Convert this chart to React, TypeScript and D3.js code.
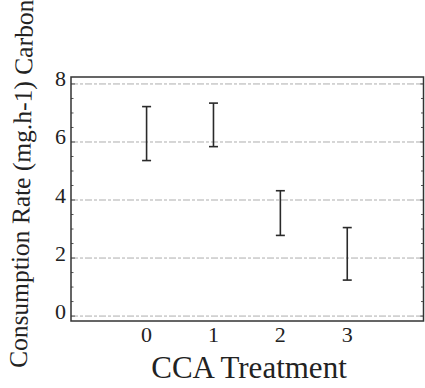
import React from "react";
import * as d3 from "d3";

// CCA treatment levels and the low / high ends of each error bar (mg.h-1 carbon)
const treatments = [0, 1, 2, 3];
const lowValues = [5.36, 5.84, 2.78, 1.24];
const highValues = [7.22, 7.34, 4.32, 3.05];
const yTickValues = [0, 2, 4, 6, 8];
const xTickValues = [0, 1, 2, 3];

const W = 425;
const H = 388;
const frame = { left: 71, right: 423.5, top: 77, bottom: 321 };

export default function App() {
  const x = d3.scaleLinear().domain([-1.13, 4.14]).range([frame.left, frame.right]);
  const y = d3.scaleLinear().domain([-0.17, 8.24]).range([frame.bottom, frame.top]);

  const minorTicks = d3.range(0, 8.01, 0.5);
  const capHalf = 4.5;
  const serif = "'Liberation Serif', 'Times New Roman', serif";

  const titleY = 184;
  const titleX = 30;

  return (
    <svg
      width={W}
      height={H}
      style={{ position: "absolute", left: 0, top: 0, background: "#fff" }}
      fontFamily={serif}
    >
      {/* dashed horizontal gridlines */}
      {yTickValues.map((v) => (
        <line
          key={"g" + v}
          x1={frame.left}
          x2={frame.right}
          y1={y(v)}
          y2={y(v)}
          stroke="#9a9a9a"
          strokeWidth={1}
          strokeDasharray="7 2 3 2"
          opacity={0.8}
        />
      ))}

      {/* minor / major ticks on left and right edges */}
      {minorTicks.map((v) => {
        const major = Math.abs(v % 2) < 1e-6;
        const len = major ? 4 : 2.5;
        return (
          <g key={"t" + v} stroke="#555" strokeWidth={1}>
            <line x1={frame.left} x2={frame.left + len} y1={y(v)} y2={y(v)} />
            <line x1={frame.right} x2={frame.right - len} y1={y(v)} y2={y(v)} />
          </g>
        );
      })}

      {/* plot frame */}
      <rect
        x={frame.left}
        y={frame.top}
        width={frame.right - frame.left}
        height={frame.bottom - frame.top}
        fill="none"
        stroke="#333"
        strokeWidth={1.5}
      />

      {/* error bars */}
      {treatments.map((t, i) => {
        const cx = x(t);
        const yTop = y(highValues[i]);
        const yBot = y(lowValues[i]);
        return (
          <g key={"e" + t} stroke="#2a2a2a" strokeWidth={1.6}>
            <line x1={cx} x2={cx} y1={yTop} y2={yBot} />
            <line x1={cx - capHalf} x2={cx + capHalf} y1={yTop} y2={yTop} />
            <line x1={cx - capHalf} x2={cx + capHalf} y1={yBot} y2={yBot} />
          </g>
        );
      })}

      {/* y tick labels */}
      {yTickValues.map((v) => (
        <text
          key={"yl" + v}
          x={66}
          y={y(v) + 2.5}
          textAnchor="end"
          fontSize={22}
          fill="#222"
        >
          {v}
        </text>
      ))}

      {/* x tick labels */}
      {xTickValues.map((v) => (
        <text
          key={"xl" + v}
          x={x(v)}
          y={341.5}
          textAnchor="middle"
          fontSize={22}
          fill="#222"
        >
          {v}
        </text>
      ))}

      {/* axis titles */}
      <text
        x={249}
        y={378}
        textAnchor="middle"
        fontSize={31}
        fill="#222"
      >
        CCA Treatment
      </text>
      <text
        transform={`translate(${titleX},${titleY}) rotate(-89)`}
        textAnchor="middle"
        fontSize={25.5}
        fill="#222"
      >
        Consumption Rate (mg.h-1) Carbon
      </text>
    </svg>
  );
}
